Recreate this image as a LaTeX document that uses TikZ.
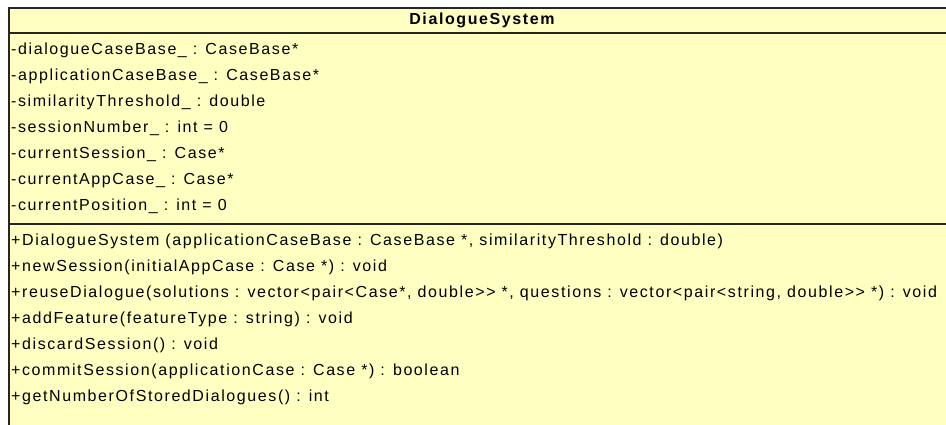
\documentclass[tikz,border=0pt]{standalone}
\usepackage{fontspec}
\setmainfont{Liberation Sans}[LetterSpace=10]
\usetikzlibrary{positioning}
\definecolor{classfill}{RGB}{255,255,193}
\tikzstyle{base} = [inner sep=0pt, text height=11.5pt, text depth=3.5pt, font=\fontsize{16}{19}\selectfont]
\tikzstyle{classname} = [base, font=\bfseries\fontsize{16}{19}\selectfont]
\tikzstyle{member} = [base, anchor=west]

\begin{document}
\begin{tikzpicture}[x=1pt, y=-1pt]
  \useasboundingbox (0,0) rectangle (946,424);
  \fill[classfill] (9,8) rectangle (960,430);
  \draw[line width=1.5pt, black!85] (960,8) -- (9,8) -- (9,430);
  \draw[line width=1.2pt, black!85] (9,33) -- (960,33);
  \draw[line width=1.2pt, black!85] (9,224) -- (960,224);

  \node (title) [classname] at (482,20) {DialogueSystem};
  % attributes
  \node (a1) [member] at (11,50.5) {-dialogueCaseBase\_ : CaseBase*};
  \node (a2) [member, below=26pt of a1.west, anchor=west] {-applicationCaseBase\_ : CaseBase*};
  \node (a3) [member, below=26pt of a2.west, anchor=west] {-similarityThreshold\_ : double};
  \node (a4) [member, below=26pt of a3.west, anchor=west] {-sessionNumber\_ : int = 0};
  \node (a5) [member, below=26pt of a4.west, anchor=west] {-currentSession\_ : Case*};
  \node (a6) [member, below=26pt of a5.west, anchor=west] {-currentAppCase\_ : Case*};
  \node (a7) [member, below=26pt of a6.west, anchor=west] {-currentPosition\_ : int = 0};
  % operations
  \node (m1) [member] at (11,241.5) {+DialogueSystem (applicationCaseBase : CaseBase *, similarityThreshold : double)};
  \node (m2) [member, below=26pt of m1.west, anchor=west] {+newSession(initialAppCase : Case *) : void};
  \node (m3) [member, below=26pt of m2.west, anchor=west] {+reuseDialogue(solutions : vector<pair<Case*, double>{}> *, questions : vector<pair<string, double>{}> *) : void};
  \node (m4) [member, below=26pt of m3.west, anchor=west] {+addFeature(featureType : string) : void};
  \node (m5) [member, below=26pt of m4.west, anchor=west] {+discardSession() : void};
  \node (m6) [member, below=26pt of m5.west, anchor=west] {+commitSession(applicationCase : Case *) : boolean};
  \node (m7) [member, below=26pt of m6.west, anchor=west] {+getNumberOfStoredDialogues() : int};
\end{tikzpicture}
\end{document}
